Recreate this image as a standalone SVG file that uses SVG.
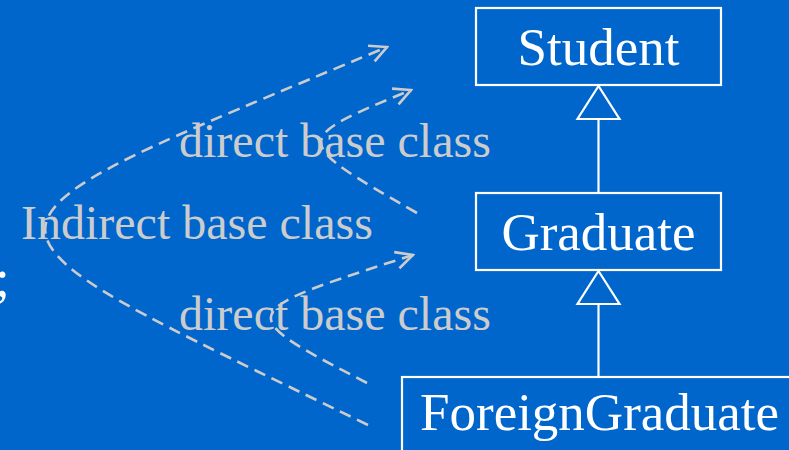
<svg xmlns="http://www.w3.org/2000/svg" width="789" height="450" viewBox="0 0 789 450">
  <style>
    .box { fill: none; stroke: #FFFFFF; stroke-width: 2.2; }
    .tri { fill: #0066CC; stroke: #FFFFFF; stroke-width: 2.2; stroke-linejoin: miter; }
    .gen { stroke: #FFFFFF; stroke-width: 2.2; }
    .node { font-family: "Liberation Serif", "Times New Roman", serif; font-size: 53px; fill: #FFFFFF; }
    .lbl { font-family: "Liberation Serif", "Times New Roman", serif; font-size: 48px; fill: #CCCCCC; }
    .dash { fill: none; stroke: #CCCCCC; stroke-width: 2.6; stroke-dasharray: 12 7; }
  </style>
  <defs>
    <marker id="open" markerUnits="userSpaceOnUse" viewBox="-20 -11 22 22" markerWidth="22" markerHeight="22" refX="0" refY="0" orient="auto">
      <path d="M -17,-8.5 L 0,0 L -17,8.5" fill="none" stroke="#CCCCCC" stroke-width="2.6"/>
    </marker>
  </defs>
  <rect x="0" y="0" width="789" height="450" fill="#0066CC"/>

  <text x="-5" y="296" class="node">;</text>

  <g id="connectors">
    <line class="gen" x1="598.5" y1="119" x2="598.5" y2="193"/>
    <polygon class="tri" points="598.5,86 577.5,119 619.5,119"/>
    <line class="gen" x1="598.5" y1="304" x2="598.5" y2="377"/>
    <polygon class="tri" points="598.5,271 577.5,304 619.5,304"/>
    <path class="dash" d="M 368,425 C -65,214 -66,237 387,47" marker-end="url(#open)"/>
    <path class="dash" d="M 417,213 C 290,140 290,140 411,90" marker-end="url(#open)"/>
    <path class="dash" d="M 367,383 C 232,313 232,313 413,255" marker-end="url(#open)"/>
  </g>

  <g id="labels">
    <text x="179" y="157" class="lbl">direct base class</text>
    <text x="21" y="239" class="lbl">Indirect base class</text>
    <text x="179" y="330" class="lbl">direct base class</text>
  </g>

  <g id="student">
    <rect class="box" x="476" y="8" width="245" height="77"/>
    <text x="598.5" y="65" class="node" text-anchor="middle">Student</text>
  </g>
  <g id="graduate">
    <rect class="box" x="476" y="193" width="245" height="77"/>
    <text x="598.5" y="250" class="node" text-anchor="middle">Graduate</text>
  </g>
  <g id="foreigngraduate">
    <rect class="box" x="402" y="377" width="420" height="100"/>
    <text x="420" y="430" class="node">ForeignGraduate</text>
  </g>
</svg>
